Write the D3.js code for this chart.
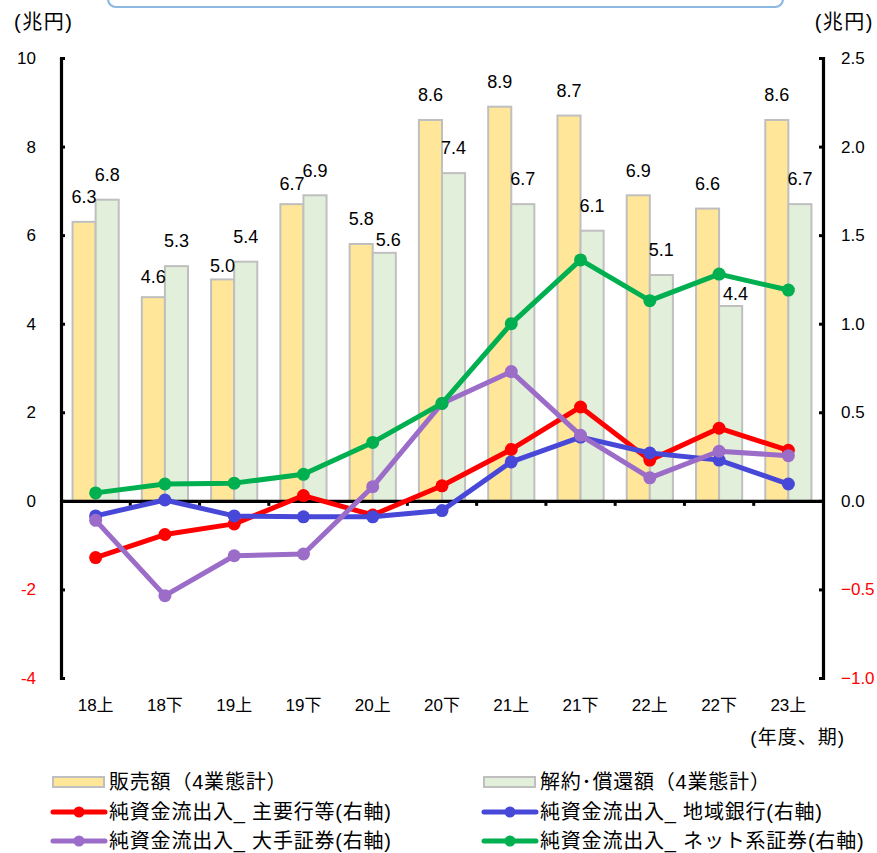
<!DOCTYPE html>
<html lang="ja">
<head>
<meta charset="utf-8">
<script src="https://cdn.jsdelivr.net/npm/d3@7"></script>
<style>
  html, body { margin: 0; padding: 0; background: #fff; }
  svg { display: block; font-family: "Liberation Sans", "Noto Sans CJK JP", sans-serif; }
</style>
</head>
<body>
<svg id="chart" width="877" height="853"></svg>
<script>
// 期（年度上期・下期）
const periods = ["18上", "18下", "19上", "19下", "20上", "20下", "21上", "21下", "22上", "22下", "23上"];

// 投資信託：販売額・解約・償還額（4業態計、兆円、左軸）
const salesValues = [6.3, 4.6, 5.0, 6.7, 5.8, 8.6, 8.9, 8.7, 6.9, 6.6, 8.6];
const redemptionValues = [6.8, 5.3, 5.4, 6.9, 5.6, 7.4, 6.7, 6.1, 5.1, 4.4, 6.7];

// 純資金流出入（兆円、右軸）
const netMajorBanks = [-0.32, -0.19, -0.13, 0.03, -0.08, 0.085, 0.29, 0.53, 0.23, 0.41, 0.285];
const netRegionalBanks = [-0.085, 0.005, -0.085, -0.09, -0.09, -0.055, 0.22, 0.36, 0.27, 0.23, 0.095];
const netMajorSecurities = [-0.11, -0.535, -0.31, -0.30, 0.08, 0.55, 0.73, 0.37, 0.13, 0.28, 0.255];
const netOnlineSecurities = [0.045, 0.095, 0.10, 0.15, 0.33, 0.55, 1.0, 1.36, 1.13, 1.28, 1.19];

// 軸目盛
const leftTicks = [-4, -2, 0, 2, 4, 6, 8, 10];
const rightTicks = [-1.0, -0.5, 0.0, 0.5, 1.0, 1.5, 2.0, 2.5];

// 系列名
const barSeriesNames = ["販売額（4業態計）", "解約･償還額（4業態計）"];
const lineSeriesNames = ["純資金流出入_ 主要行等(右軸)", "純資金流出入_ 地域銀行(右軸)",
                         "純資金流出入_ 大手証券(右軸)", "純資金流出入_ ネット系証券(右軸)"];

// ---- layout / style (not data) ----
const plot = { left: 61, right: 823, top: 58, bottom: 678 };
const barFill = ["#FFE699", "#E2EFDA"];
const barStroke = "#BFBFBF";
const lineColors = ["#FF0000", "#4848D8", "#9B6CC8", "#00B050"];
// distance from the bar top to the centre of its value label
const salesLabelLift = [25, 20, 14, 20, 25, 25, 25, 25, 25, 25, 25];
const redemptionLabelLift = [25, 25, 25, 25, 13, 25, 25, 25, 25, 12, 25];
const redemptionLabelShift = [0, 0, 0, 0, 4, 0, 0, 0, 0, 5, 0];

const svg = d3.select("#chart");

// header box at the top edge
svg.append("rect")
  .attr("x", 108).attr("y", -30).attr("width", 675).attr("height", 37)
  .attr("rx", 8).attr("fill", "#fff")
  .attr("stroke", "#8DB8E2").attr("stroke-width", 2.2);

const x = d3.scaleBand().domain(periods).range([plot.left, plot.right]).padding(0);
const xSub = d3.scaleBand().domain([0, 1]).range([0, x.bandwidth()]).paddingInner(0).paddingOuter(0.5);
const yL = d3.scaleLinear().domain([-4, 10]).range([plot.bottom, plot.top]);
const yR = d3.scaleLinear().domain([-1, 2.5]).range([plot.bottom, plot.top]);

// ---- bars ----
const barSets = [salesValues, redemptionValues];
barSets.forEach((vals, s) => {
  svg.append("g").selectAll("rect")
    .data(vals)
    .join("rect")
    .attr("x", (d, i) => x(periods[i]) + xSub(s))
    .attr("y", d => yL(d))
    .attr("width", xSub.bandwidth())
    .attr("height", d => yL(0) - yL(d))
    .attr("fill", barFill[s])
    .attr("stroke", barStroke)
    .attr("stroke-width", 2);
});

// ---- axes ----
const axisG = svg.append("g");
// left axis
const leftAxis = d3.axisRight(yL).tickValues(leftTicks).tickSize(4).tickFormat("");
axisG.append("g").attr("transform", `translate(${plot.left},0)`).call(leftAxis)
  .call(g => g.selectAll("path").attr("stroke", "#000").attr("stroke-width", 3.2).attr("fill", "none"))
  .call(g => g.selectAll("line").attr("stroke", "#000").attr("stroke-width", 3));
// right axis
const rightAxis = d3.axisLeft(yR).tickValues(rightTicks).tickSize(4).tickFormat("");
axisG.append("g").attr("transform", `translate(${plot.right},0)`).call(rightAxis)
  .call(g => g.selectAll("path").attr("stroke", "#000").attr("stroke-width", 3.2).attr("fill", "none"))
  .call(g => g.selectAll("line").attr("stroke", "#000").attr("stroke-width", 3));
// category axis on the zero line
const bottomAxis = d3.axisBottom(x).tickSize(0).tickFormat("");
axisG.append("g").attr("transform", `translate(0,${yL(0)})`).call(bottomAxis)
  .call(g => g.select("path").attr("stroke", "#000").attr("stroke-width", 3.2));
axisG.append("g").selectAll("line")
  .data(periods.slice(1))
  .join("line")
  .attr("x1", d => x(d)).attr("x2", d => x(d))
  .attr("y1", yL(0)).attr("y2", yL(0) + 5)
  .attr("stroke", "#000").attr("stroke-width", 3);

// tick labels
svg.append("g").selectAll("text")
  .data(leftTicks)
  .join("text")
  .attr("x", 36).attr("y", d => yL(d))
  .attr("dy", "0.35em")
  .attr("text-anchor", "end")
  .attr("font-size", 17)
  .attr("fill", d => d < 0 ? "#FF0000" : "#000")
  .text(d => d);
svg.append("g").selectAll("text")
  .data(rightTicks)
  .join("text")
  .attr("x", 841).attr("y", d => yR(d))
  .attr("dy", "0.35em")
  .attr("text-anchor", "start")
  .attr("font-size", 17)
  .attr("fill", d => d < 0 ? "#FF0000" : "#000")
  .text(d => d3.format(".1f")(d));
svg.append("g").selectAll("text")
  .data(periods)
  .join("text")
  .attr("x", d => x(d) + x.bandwidth() / 2)
  .attr("y", 705)
  .attr("dy", "0.35em")
  .attr("text-anchor", "middle")
  .attr("font-size", 17)
  .text(d => d);

// unit labels
svg.append("text").attr("x", 14).attr("y", 22).attr("dy", "0.35em")
  .attr("font-size", 20).attr("letter-spacing", 1.5).text("(兆円)");
svg.append("text").attr("x", 874).attr("y", 22).attr("dy", "0.35em")
  .attr("text-anchor", "end").attr("font-size", 20).attr("letter-spacing", 1.5).text("(兆円)");
svg.append("text").attr("x", 845).attr("y", 737).attr("dy", "0.35em")
  .attr("text-anchor", "end").attr("font-size", 19).attr("letter-spacing", 1).text("(年度、期)");

// ---- lines ----
const lineSets = [netMajorBanks, netRegionalBanks, netMajorSecurities, netOnlineSecurities];
const lineGen = d3.line()
  .x((d, i) => x(periods[i]) + x.bandwidth() / 2)
  .y(d => yR(d));
lineSets.forEach((vals, s) => {
  const g = svg.append("g");
  g.append("path")
    .datum(vals)
    .attr("d", lineGen)
    .attr("fill", "none")
    .attr("stroke", lineColors[s])
    .attr("stroke-width", 5)
    .attr("stroke-linejoin", "round");
  g.selectAll("circle")
    .data(vals)
    .join("circle")
    .attr("cx", (d, i) => x(periods[i]) + x.bandwidth() / 2)
    .attr("cy", d => yR(d))
    .attr("r", 6.5)
    .attr("fill", lineColors[s]);
});

// ---- bar value labels ----
const labelFmt = d3.format(".1f");
svg.append("g").selectAll("text")
  .data(salesValues)
  .join("text")
  .attr("x", (d, i) => x(periods[i]) + xSub(0) + xSub.bandwidth() / 2)
  .attr("y", (d, i) => yL(d) - salesLabelLift[i])
  .attr("dy", "0.35em")
  .attr("text-anchor", "middle")
  .attr("font-size", 18)
  .text(d => labelFmt(d));
svg.append("g").selectAll("text")
  .data(redemptionValues)
  .join("text")
  .attr("x", (d, i) => x(periods[i]) + xSub(1) + xSub.bandwidth() / 2 + redemptionLabelShift[i])
  .attr("y", (d, i) => yL(d) - redemptionLabelLift[i])
  .attr("dy", "0.35em")
  .attr("text-anchor", "middle")
  .attr("font-size", 18)
  .text(d => labelFmt(d));

// ---- legend ----
const legendItems = [
  { name: barSeriesNames[0], type: "bar", color: barFill[0], col: 0, row: 0 },
  { name: barSeriesNames[1], type: "bar", color: barFill[1], col: 1, row: 0 },
  { name: lineSeriesNames[0], type: "line", color: lineColors[0], col: 0, row: 1 },
  { name: lineSeriesNames[1], type: "line", color: lineColors[1], col: 1, row: 1 },
  { name: lineSeriesNames[2], type: "line", color: lineColors[2], col: 0, row: 2 },
  { name: lineSeriesNames[3], type: "line", color: lineColors[3], col: 1, row: 2 }
];
const legendColX = [53, 484];
const legendRowY = [782, 812, 841];
const lg = svg.append("g").selectAll("g")
  .data(legendItems)
  .join("g")
  .attr("transform", d => `translate(${legendColX[d.col]},${legendRowY[d.row]})`);
lg.filter(d => d.type === "bar").append("rect")
  .attr("x", 0).attr("y", -5).attr("width", 51).attr("height", 10)
  .attr("fill", d => d.color).attr("stroke", barStroke).attr("stroke-width", 2);
lg.filter(d => d.type === "line").append("line")
  .attr("x1", 0).attr("x2", 52).attr("y1", 0).attr("y2", 0)
  .attr("stroke", d => d.color).attr("stroke-width", 5).attr("stroke-linecap", "round");
lg.filter(d => d.type === "line").append("circle")
  .attr("cx", 26).attr("cy", 0).attr("r", 5.5).attr("fill", d => d.color);
lg.append("text")
  .attr("x", 56).attr("y", 0).attr("dy", "0.35em")
  .attr("font-size", 20)
  .attr("letter-spacing", 0.8)
  .text(d => d.name);
</script>
</body>
</html>
